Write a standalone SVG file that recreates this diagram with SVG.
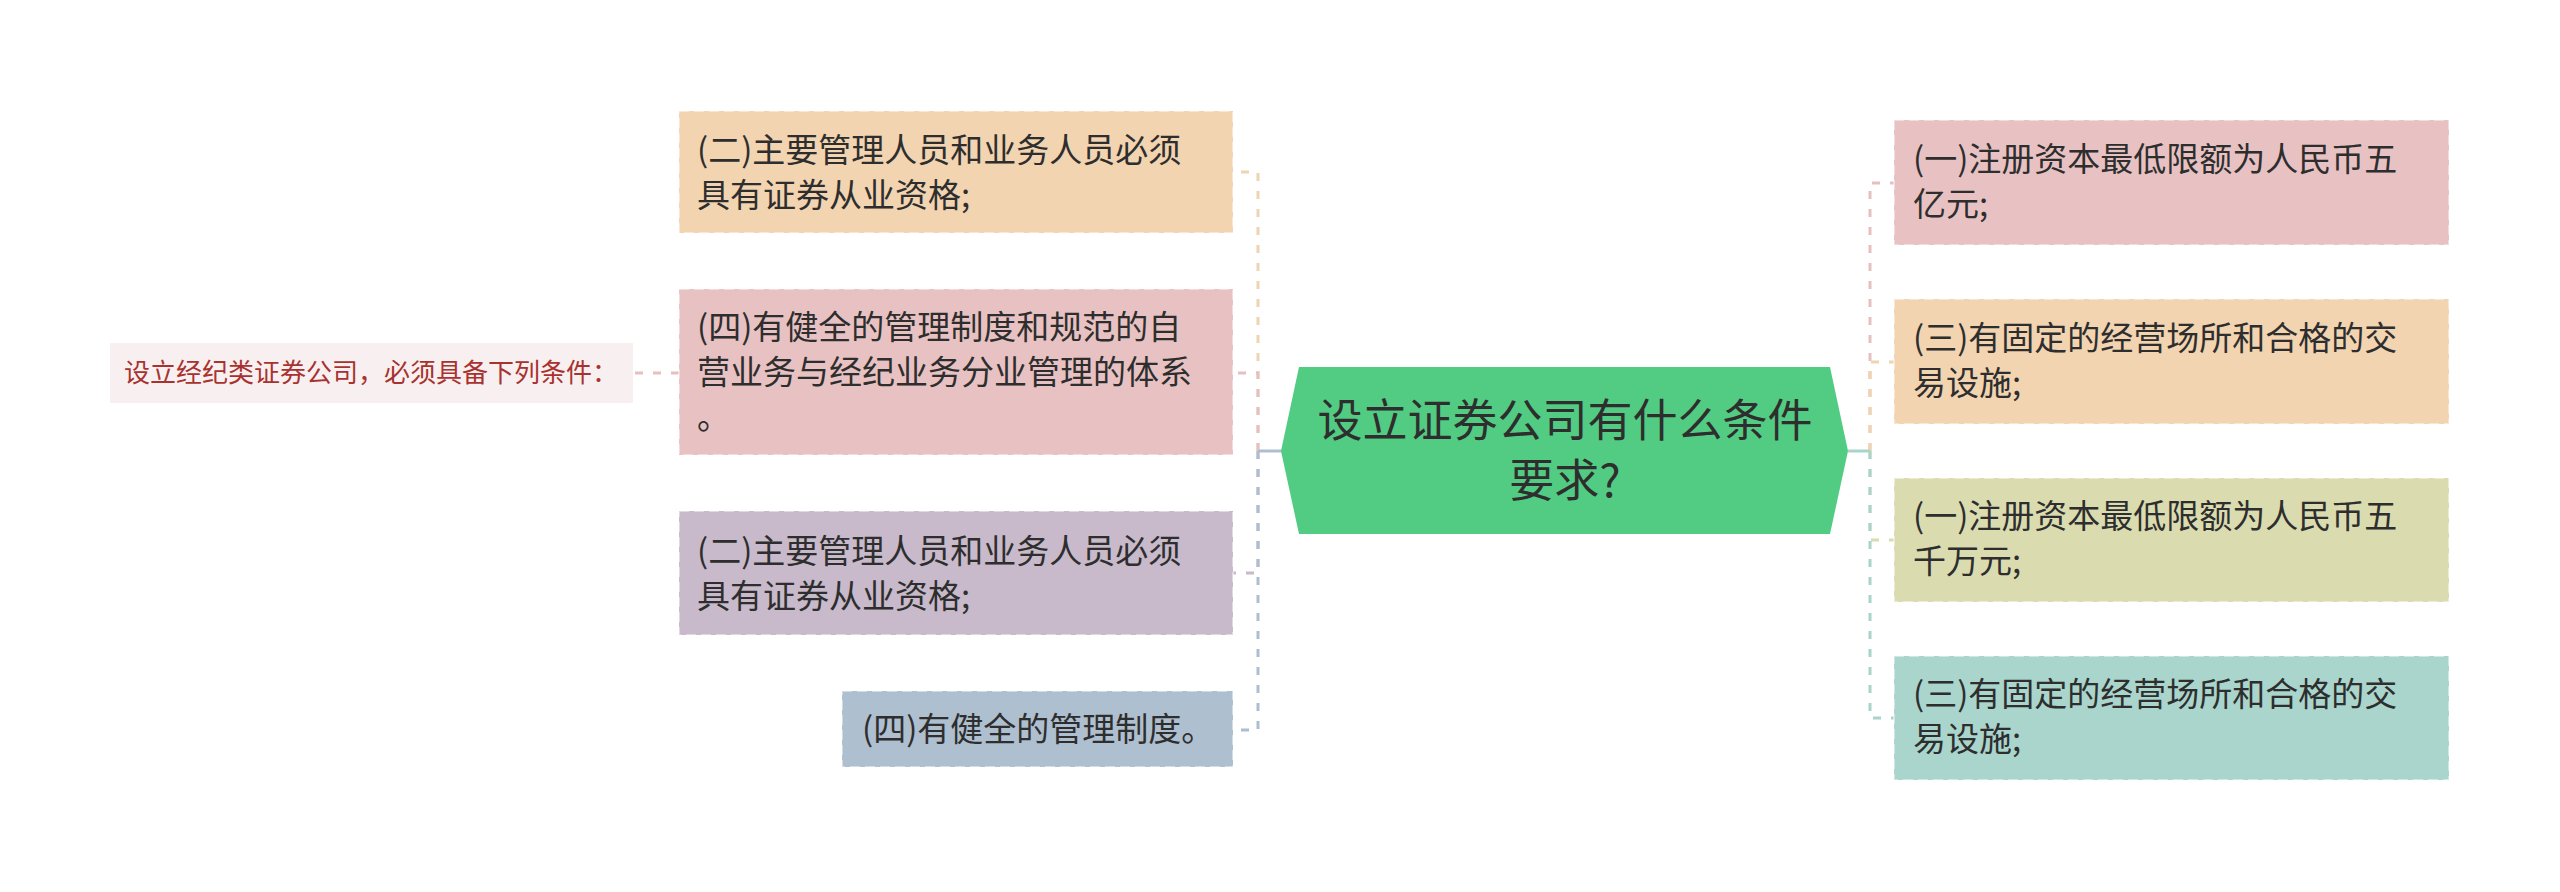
<svg xmlns="http://www.w3.org/2000/svg" width="2560" height="892" viewBox="0 0 2560 892">
<style>
.t{font-family:"Noto Sans CJK SC","Microsoft YaHei",sans-serif;font-size:33px;fill:#2e2e2e}
.root{font-family:"Noto Sans CJK SC",sans-serif;font-size:45px;fill:#2e2e2e;text-anchor:middle}
.small{font-family:"Noto Sans CJK SC",sans-serif;font-size:26px;fill:#a8322f}
.box{stroke:#ffffff;stroke-opacity:0.45;stroke-width:2;stroke-dasharray:10 5}
.c{fill:none;stroke-width:3;stroke-dasharray:8 10}
.s{fill:none;stroke-width:3}
</style>
<rect width="2560" height="892" fill="#ffffff"/>
<g id="connectors">
<path class="c" d="M1258 451 V172 H1233" stroke="#f0d3b0"/>
<path class="c" d="M1258 451 V373 H1233" stroke="#e6c0c1"/>
<path class="c" d="M1258 451 V573 H1233" stroke="#c8b9cb"/>
<path class="c" d="M1258 451 V730 H1233" stroke="#aebed0"/>
<path class="s" d="M1282 451 H1258" stroke="#aebed0"/>
<path class="c" d="M1870 451 V183 H1894" stroke="#e6c0c1"/>
<path class="c" d="M1870 451 V362 H1894" stroke="#f0d3b0"/>
<path class="c" d="M1870 451 V540 H1894" stroke="#d9dcb0"/>
<path class="c" d="M1870 451 V718 H1894" stroke="#a8d4cb"/>
<path class="s" d="M1848 451 H1870" stroke="#a8d4cb"/>
<path class="c" d="M679 373 H633" stroke="#e6c0c1"/>
</g>
<g id="root">
<polygon points="1299,367 1830,367 1848,451 1830,534 1299,534 1281,451" fill="#52cc82"/>
<text class="root" x="1565" y="437">设立证券公司有什么条件</text>
<text class="root" x="1565" y="497">要求?</text>
</g>
<g id="left1">
<rect class="box" x="679" y="111" width="554" height="122" fill="#f2d4b1"/>
<text class="t" x="697" y="162">(二)主要管理人员和业务人员必须</text>
<text class="t" x="697" y="207">具有证券从业资格;</text>
</g>
<g id="left2">
<rect class="box" x="679" y="289" width="554" height="166" fill="#e8c2c2"/>
<text class="t" x="697" y="339">(四)有健全的管理制度和规范的自</text>
<text class="t" x="697" y="384">营业务与经纪业务分业管理的体系</text>
<text class="t" x="697" y="429">。</text>
</g>
<g id="left3">
<rect class="box" x="679" y="511" width="554" height="124" fill="#c8bacb"/>
<text class="t" x="697" y="563">(二)主要管理人员和业务人员必须</text>
<text class="t" x="697" y="608">具有证券从业资格;</text>
</g>
<g id="left4">
<rect class="box" x="842" y="691" width="391" height="76" fill="#aebfd0"/>
<text class="t" x="862" y="741">(四)有健全的管理制度。</text>
</g>
<g id="sub">
<rect x="110" y="343" width="523" height="60" fill="#f8f0f0"/>
<text class="small" x="124" y="382">设立经纪类证券公司，必须具备下列条件：</text>
</g>
<g id="right1">
<rect class="box" x="1894" y="120" width="555" height="125" fill="#e8c2c2"/>
<text class="t" x="1913" y="171">(一)注册资本最低限额为人民币五</text>
<text class="t" x="1913" y="216">亿元;</text>
</g>
<g id="right2">
<rect class="box" x="1894" y="299" width="555" height="125" fill="#f2d4b1"/>
<text class="t" x="1913" y="350">(三)有固定的经营场所和合格的交</text>
<text class="t" x="1913" y="395">易设施;</text>
</g>
<g id="right3">
<rect class="box" x="1894" y="478" width="555" height="124" fill="#dadcb0"/>
<text class="t" x="1913" y="528">(一)注册资本最低限额为人民币五</text>
<text class="t" x="1913" y="573">千万元;</text>
</g>
<g id="right4">
<rect class="box" x="1894" y="656" width="555" height="124" fill="#a9d5cc"/>
<text class="t" x="1913" y="706">(三)有固定的经营场所和合格的交</text>
<text class="t" x="1913" y="751">易设施;</text>
</g>
</svg>
